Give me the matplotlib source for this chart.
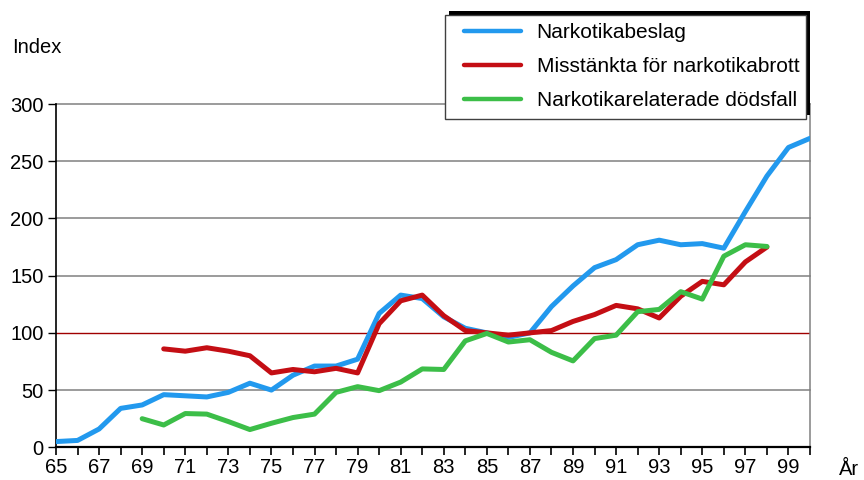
import numpy as np
import matplotlib.pyplot as plt
from matplotlib.patches import Rectangle

plt.rcParams['font.family'] = ['Liberation Sans', 'DejaVu Sans']

# === Data (index) ===
years_beslag = list(range(65, 101))
beslag = [5, 6, 16, 34, 37, 46, 45, 44, 48, 56, 50, 63, 71, 71, 77,
          117, 133, 130, 114, 104, 100, 96, 100, 123, 141, 157, 164, 177,
          181, 177, 178, 174, 206, 237, 262, 270]

years_misst = list(range(70, 99))
misstankta = [86, 84, 87, 84, 80, 65, 68, 66, 69, 65, 108, 128, 133, 115,
              102, 100, 98, 100, 102, 110, 116, 124, 121, 113, 132, 145,
              142, 162, 175]

years_dod = list(range(69, 99))
dodsfall = [25, 19.5, 29.5, 29, 22.5, 15.5, 21, 26, 29, 48, 53, 49.5, 57,
            68.5, 68, 93, 99.5, 92, 94, 83, 75.5, 95, 98, 118.5, 120.5,
            136, 129.5, 167, 177, 175.5]

labels = ["Narkotikabeslag", "Misstänkta för narkotikabrott",
          "Narkotikarelaterade dödsfall"]
colors = ["#2299EE", "#C40E14", "#3CBE48"]

W, H = 864, 480

# === Figure ===
fig = plt.figure(figsize=(8.64, 4.8), dpi=100)
ax = fig.add_axes([56 / W, 1 - 447.3 / H, (810 - 56) / W, (447.3 - 104) / H])

# gridlines (100 is the reference line, drawn in dark red)
for v in [50, 150, 200, 250, 300]:
    ax.axhline(v, color="#808080", linewidth=1.1, zorder=1, clip_on=False)
ax.axhline(100, color="#A00000", linewidth=1.0, zorder=1)

series = [(years_beslag, beslag), (years_misst, misstankta), (years_dod, dodsfall)]
handles = []
for (x, y), lab, col in zip(series, labels, colors):
    h, = ax.plot(x, y, color=col, linewidth=3.6, label=lab,
                 solid_capstyle="round", solid_joinstyle="round", zorder=3)
    handles.append(h)

ax.set_xlim(65, 100)
ax.set_ylim(0, 300)
ax.set_yticks([0, 50, 100, 150, 200, 250, 300])
ax.set_xticks(range(65, 101))
ax.set_xticklabels([str(y) if y % 2 == 1 and y < 100 else "" for y in range(65, 101)])

ax.tick_params(axis="both", labelsize=14.5, direction="out")
ax.tick_params(axis="x", length=6, width=1.2, color="black", pad=2)
ax.tick_params(axis="y", length=6, width=1.0, color="black", pad=3)

ax.spines["top"].set_visible(False)
ax.spines["right"].set_color("#808080")
ax.spines["right"].set_linewidth(1.1)
ax.spines["left"].set_color("black")
ax.spines["left"].set_linewidth(1.2)
ax.spines["bottom"].set_color("black")
ax.spines["bottom"].set_linewidth(1.6)

fig.text(12 / W, 1 - 53 / H, "Index", fontsize=14.5, va="baseline", ha="left")
fig.text(839 / W, 1 - 475 / H, "År", fontsize=14.5, va="baseline", ha="left")

# legend box with an offset black shadow (up-right)
bx0, by0, bx1, by1 = 445, 15, 806, 119
fig.patches.append(Rectangle(((bx0 + 4) / W, 1 - (by1 - 4) / H), (bx1 - bx0) / W,
                             (by1 - by0) / H, transform=fig.transFigure,
                             facecolor="black", edgecolor="none", zorder=1))
fig.patches.append(Rectangle((bx0 / W, 1 - by1 / H), (bx1 - bx0) / W,
                             (by1 - by0) / H, transform=fig.transFigure,
                             facecolor="white", edgecolor="#404040",
                             linewidth=1.0, zorder=2))

leg = fig.legend(handles=handles, loc="upper left",
                 bbox_to_anchor=(464 / W, 1 - 23 / H),
                 fontsize=15, frameon=False, borderaxespad=0, borderpad=0,
                 handlelength=2.74, handletextpad=0.75, labelspacing=0.72)
leg.set_zorder(5)
for lh in leg.get_lines():
    lh.set_linewidth(3.2)

fig.savefig("out.png", dpi=100)
